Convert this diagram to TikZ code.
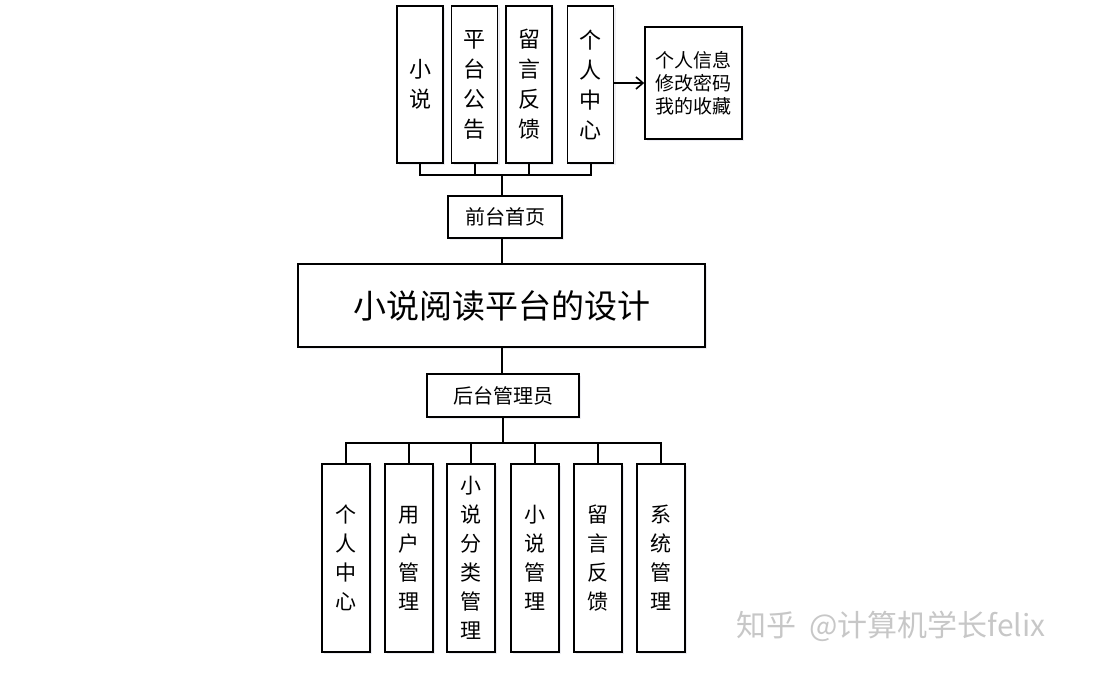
\documentclass[tikz,border=0pt]{standalone}
\usepackage{fontspec}
\newfontfamily\cjk{Noto Sans CJK SC}
\usetikzlibrary{arrows.meta,shadows}
\begin{document}
\begin{tikzpicture}[x=1pt,y=-1pt,
  box/.style={draw=black,line width=1.6pt,fill=white,inner sep=0pt,
    drop shadow={shadow xshift=2pt,shadow yshift=-2pt,fill=blue!30!black!20,opacity=0.35}},
  vtop/.style={box,minimum width=46pt,minimum height=157pt,align=center,
    font=\cjk\fontsize{22}{30}\selectfont},
  vbot/.style={box,minimum width=48pt,minimum height=188pt,align=center,
    font=\cjk\fontsize{21}{29}\selectfont},
  hbox/.style={box,font=\cjk\fontsize{20}{24}\selectfont},
  conn/.style={line width=2pt},
  arr/.style={line width=1.8pt,-{Straight Barb[length=7pt,width=12pt,line width=1.6pt]}}
]
\useasboundingbox (0,0) rectangle (1095,672);
% top row
\node[vtop] (t1) at (420,84.5) {小\\说};
\node[vtop] (t2) at (474.5,84.5) {平\\台\\公\\告};
\node[vtop] (t3) at (529,84.5) {留\\言\\反\\馈};
\node[vtop] (t4) at (590.5,84.5) {个\\人\\中\\心};
\node[box,minimum width=97pt,minimum height=112pt,align=center,
  font=\cjk\fontsize{19}{23}\selectfont] (info) at (693.5,83) {个人信息\\修改密码\\我的收藏};
\node[hbox,minimum width=114pt,minimum height=42pt] (home) at (505,217) {前台首页};
\node[box,minimum width=407pt,minimum height=83pt,font=\cjk\fontsize{33}{36}\selectfont] (main) at (501.5,305.5) {小说阅读平台的设计};
\node[hbox,minimum width=152pt,minimum height=43pt] (admin) at (503,395.5) {后台管理员};
% bottom row
\node[vbot] (b1) at (346,558) {个\\人\\中\\心};
\node[vbot] (b2) at (409,558) {用\\户\\管\\理};
\node[vbot] (b3) at (471,558) {小\\说\\分\\类\\管\\理};
\node[vbot] (b4) at (535,558) {小\\说\\管\\理};
\node[vbot] (b5) at (598,558) {留\\言\\反\\馈};
\node[vbot] (b6) at (661,558) {系\\统\\管\\理};
% connectors top
\coordinate (busT) at (502,175);
\draw[conn] (t1.south) |- (busT) -| (t4.south);
\draw[conn] (t2.south) -- (t2.south |- busT);
\draw[conn] (t3.south) -- (t3.south |- busT);
\draw[conn] (busT) -- (busT |- home.north);
\draw[arr] (t4.east |- info.west) -- (info.west);
\draw[conn] (home.south -| main.north) -- (main.north);
\draw[conn] (main.south) -- (main.south |- admin.north);
% connectors bottom
\coordinate (busB) at (503,443);
\draw[conn] (admin.south) -- (busB);
\draw[conn] (b1.north) |- (busB) -| (b6.north);
\foreach \b in {b2,b3,b4,b5} \draw[conn] (\b.north) -- (\b.north |- busB);
% watermark
\node[font=\cjk\fontsize{30}{32}\selectfont,text=black!22,anchor=west] (wm) at (733,626) {知乎\hspace{6pt} @计算机学长felix};
\end{tikzpicture}
\end{document}
